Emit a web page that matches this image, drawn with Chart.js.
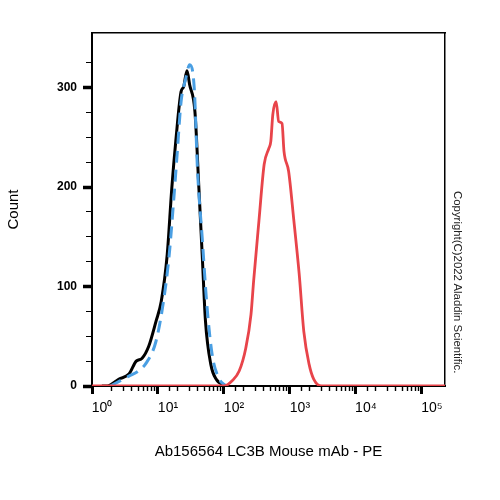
<!DOCTYPE html>
<html>
<head>
<meta charset="utf-8">
<script src="https://cdn.jsdelivr.net/npm/chart.js@4.4.0/dist/chart.umd.min.js"></script>
<style>
  html, body { margin: 0; padding: 0; background: #fff; }
  #wrap { position: relative; width: 500px; height: 500px; }
  #copyright {
    position: absolute; left: 452px; top: 191px;
    writing-mode: vertical-rl; white-space: nowrap;
    font: 11.4px "Liberation Sans", Arial, sans-serif; color: #222;
  }
</style>
</head>
<body>
<div id="wrap">
  <canvas id="flowChart" width="500" height="500"></canvas>
  <div id="copyright">Copyright(C)2022 Aladdin Scientific.</div>
</div>
<script>
/* ---------- DATA ---------- */

// black: unstained / control
const blackX = [1.41, 1.70, 2.57, 3.63, 4.68, 5.75, 7.24, 9.33, 11.2, 13.8, 16.2, 18.6, 22.4, 24.5, 27.5, 30.2, 36.3, 41.7, 46.8, 52.5, 63.1, 75.9, 107];
const blackY = [0, 0, 7, 12, 25, 28, 40, 65, 85, 132, 199, 246, 296, 301, 317, 303, 276, 199, 132, 65, 22, 7, 0];

// blue dashed: isotype control
const blueX = [1.9, 2.8, 3.63, 5.01, 6.61, 9.33, 12.3, 14.8, 17.4, 19.5, 22.4, 26.3, 30.2, 35.5, 39.8, 46.8, 55.0, 66.1, 83.2, 107];
const blueY = [0, 6, 10, 15, 23, 45, 88, 132, 189, 233, 286, 309, 323, 299, 216, 149, 82, 32, 8, 0];

// red: LC3B stained
const redX = [1, 100, 132, 170, 214, 257, 282, 339, 407, 479, 513, 550, 617, 676, 759, 813, 955, 1148, 1380, 1622, 1950, 2291, 3020, 224000];
const redY = [0, 0, 5, 15, 38, 72, 106, 166, 223, 239, 246, 273, 286, 266, 264, 236, 216, 166, 113, 55, 22, 7, 0, 0];

const xMin = 1;
const xMax = 224000;
const yMax = 355;
const xTitle = "Ab156564 LC3B Mouse mAb - PE";
const yTitle = "Count";

/* ---------- HELPERS ---------- */

const SUP = ["\u2070", "\u00b9", "\u00b2", "\u00b3", "\u2074", "\u2075"];

function isDecade(v) {
  const e = Math.log10(v);
  return Math.abs(e - Math.round(e)) < 1e-6;
}

function toPoints(xs, ys) {
  return xs.map((x, i) => ({ x, y: ys[i] }));
}

Chart.defaults.font.family = "'Liberation Sans', Arial, sans-serif";
Chart.defaults.color = "#000";

/* ---------- CHART ---------- */

new Chart(document.getElementById("flowChart"), {
  type: "line",
  data: {
    datasets: [
      { data: toPoints(redX, redY), borderColor: "#e8444a", borderWidth: 2.8 },
      { data: toPoints(blueX, blueY), borderColor: "#4a9fe3", borderWidth: 3, borderDash: [12, 7] },
      { data: toPoints(blackX, blackY), borderColor: "#000", borderWidth: 3 },
    ],
  },
  options: {
    responsive: false,
    animation: false,
    layout: { padding: { top: 33, right: 55, left: 0, bottom: 0 } },
    elements: {
      point: { radius: 0 },
      line: { cubicInterpolationMode: "monotone", fill: false },
    },
    plugins: { legend: { display: false }, tooltip: { enabled: false } },
    scales: {
      x: {
        type: "logarithmic",
        position: "bottom",
        min: xMin,
        max: xMax,
        afterBuildTicks: (s) => {
          s.ticks = s.ticks.filter((t) => t.value >= 1 && t.value <= 100000);
        },
        afterFit: (s) => { s.height = 114; },
        border: { color: "#000", width: 2 },
        grid: {
          drawOnChartArea: false,
          tickLength: 8,
          tickColor: "#000",
          tickWidth: (c) => (c.tick && isDecade(c.tick.value) ? 3 : 1.4),
          tickBorderDash: (c) => (c.tick && isDecade(c.tick.value) ? [] : [4, 20]),
        },
        ticks: {
          autoSkip: false,
          maxRotation: 0,
          padding: 6,
          labelOffset: 10,
          font: { size: 14 },
          callback: (v) => (isDecade(v) ? "10" + SUP[Math.round(Math.log10(v))] : ""),
        },
        title: { display: true, text: xTitle, font: { size: 15 }, padding: { top: 0, bottom: 39 } },
      },
      y: {
        position: "left",
        min: 0,
        max: yMax,
        afterBuildTicks: (s) => {
          s.ticks = s.ticks.filter((t) => t.value % 25 === 0);
        },
        afterFit: (s) => { s.width = 92; },
        border: { color: "#000", width: 2 },
        grid: {
          drawOnChartArea: false,
          tickLength: 9,
          tickColor: "#000",
          tickWidth: (c) => (c.tick && c.tick.value % 100 === 0 ? 3.5 : 1.2),
          tickBorderDash: (c) => (c.tick && c.tick.value % 100 === 0 ? [] : [0, 3, 5, 100]),
        },
        ticks: {
          stepSize: 25,
          autoSkip: false,
          padding: 6,
          font: { size: 12, weight: "bold" },
          callback: (v) => (v % 100 === 0 ? v : ""),
        },
        title: { display: true, text: yTitle, font: { size: 15 }, padding: { top: 5, bottom: 0 } },
      },
      x2: {
        type: "linear",
        position: "top",
        min: 0,
        max: 1,
        afterFit: (s) => { s.height = 0; },
        ticks: { display: false },
        grid: { display: false, drawTicks: false },
        border: { color: "#000", width: 1.5 },
      },
      y2: {
        type: "linear",
        position: "right",
        min: 0,
        max: 1,
        afterFit: (s) => { s.width = 0; },
        ticks: { display: false },
        grid: { display: false, drawTicks: false },
        border: { color: "#000", width: 1.5 },
      },
    },
  },
});
</script>
</body>
</html>
